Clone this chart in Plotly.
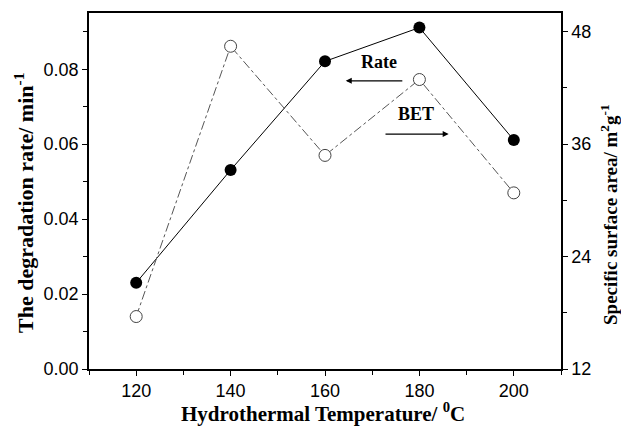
import plotly.graph_objects as go

temperature = [120, 140, 160, 180, 200]
rate = [0.0230, 0.0531, 0.0821, 0.0911, 0.0611]
bet = [17.6, 46.45, 34.8, 42.9, 30.8]

x_ticks = [120, 140, 160, 180, 200]
rate_ticks = [0.00, 0.02, 0.04, 0.06, 0.08]
bet_ticks = [12, 24, 36, 48]

serif = "Liberation Serif, Times New Roman, serif"
sans = "Liberation Sans, Arial, sans-serif"

fig = go.Figure()
fig.add_trace(go.Scatter(
    x=temperature, y=bet, yaxis="y2", mode="lines+markers", name="BET",
    line=dict(color="#555555", width=1, dash="dashdot"),
    marker=dict(size=12, color="white", line=dict(color="#444444", width=1)),
))
fig.add_trace(go.Scatter(
    x=temperature, y=rate, mode="lines+markers", name="Rate",
    line=dict(color="black", width=1),
    marker=dict(size=12, color="black"),
))

axis_common = dict(
    showline=True, linecolor="black", linewidth=1.5, ticks="outside",
    ticklen=5, tickwidth=1.2, tickcolor="black", showgrid=False, zeroline=False,
    automargin=False,
    tickfont=dict(family=sans, size=18, color="black"),
)

fig.update_layout(
    width=621, height=426,
    margin=dict(l=89, r=60, t=13, b=57),
    paper_bgcolor="white", plot_bgcolor="white",
    showlegend=False,
    xaxis=dict(
        range=[110, 210], tickvals=x_ticks, mirror=True,
        minor=dict(dtick=10, ticks="outside", ticklen=4, tickcolor="black", tickwidth=1),
        **axis_common,
    ),
    yaxis=dict(
        range=[0, 0.095], tickvals=rate_ticks, tickformat=".2f",
        minor=dict(dtick=0.01, ticks="outside", ticklen=4, tickcolor="black", tickwidth=1),
        **axis_common,
    ),
    yaxis2=dict(
        range=[12, 50], tickvals=bet_ticks, overlaying="y", side="right",
        minor=dict(dtick=6, ticks="outside", ticklen=4, tickcolor="black", tickwidth=1),
        **axis_common,
    ),
)

# axis titles
fig.add_annotation(x=(323 - 89) / 472, y=(369 - 412) / 356, xref="paper", yref="paper",
                   text="<b>Hydrothermal Temperature/ <sup>0</sup>C</b>", showarrow=False,
                   xanchor="center", yanchor="middle",
                   font=dict(family=serif, size=21, color="black"))
fig.add_annotation(x=(24 - 89) / 472, y=(369 - 203) / 356, xref="paper", yref="paper",
                   text="<b>The degradation rate/ min<sup>-1</sup></b>", showarrow=False,
                   textangle=-90, xanchor="center", yanchor="middle",
                   font=dict(family=serif, size=22, color="black"))
fig.add_annotation(x=(609 - 89) / 472, y=(369 - 215) / 356, xref="paper", yref="paper",
                   text="<b>Specific surface area/ m<sup>2</sup>g<sup>-1</sup></b>", showarrow=False,
                   textangle=-90, xanchor="center", yanchor="middle",
                   font=dict(family=serif, size=19, color="black"))

# in-plot labels and arrows
fig.add_annotation(x=171.4, y=0.0819, xref="x", yref="y", text="<b>Rate</b>",
                   showarrow=False, font=dict(family=serif, size=18, color="black"))
fig.add_annotation(x=164.4, y=0.0769, ax=176.7, ay=0.0769, xref="x", yref="y",
                   axref="x", ayref="y", text="", showarrow=True, arrowhead=2,
                   arrowsize=1, arrowwidth=1.2, arrowcolor="black")
fig.add_annotation(x=179.3, y=0.068, xref="x", yref="y", text="<b>BET</b>",
                   showarrow=False, font=dict(family=serif, size=18, color="black"))
fig.add_annotation(x=186.2, y=0.0627, ax=172.5, ay=0.0627, xref="x", yref="y",
                   axref="x", ayref="y", text="", showarrow=True, arrowhead=2,
                   arrowsize=1, arrowwidth=1.2, arrowcolor="black")

fig.write_html("out.html", config={"displayModeBar": False},
               post_script="document.body.style.margin='0';document.body.style.overflow='hidden';")
